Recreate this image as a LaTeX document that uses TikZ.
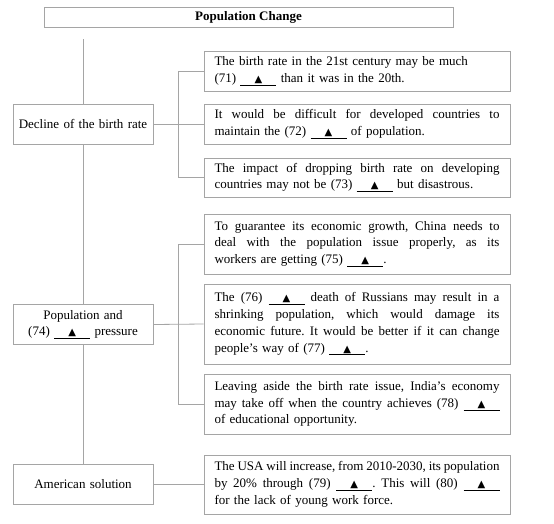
\documentclass[tikz,border=0pt]{standalone}
\usepackage{fontspec}
\setmainfont{Liberation Serif}
\newfontfamily\dejavu{DejaVu Sans}
\newcommand{\ws}{\spaceskip=.3333em plus .3em minus .13em\relax\xspaceskip=\spaceskip}
\newcommand{\tri}{{\dejavu\fontsize{10}{10}\selectfont ▲}}
\newcommand{\blank}{\underline{\makebox[36pt]{\tri}}}
\newcommand{\jl}[1]{\hbox to 285pt{\ws #1}}
\definecolor{linegray}{RGB}{165,165,165}
\frenchspacing
\begin{document}
\begin{tikzpicture}[x=1pt,y=-1pt,
  every node/.style={font=\fontsize{13}{16.7}\selectfont\frenchspacing\ws, text=black},
  rbox/.style={draw=linegray, line width=0.8pt, text width=285pt, inner xsep=10.5pt, inner ysep=0pt, align=justify, minimum width=306pt, anchor=center},
  lbox/.style={draw=linegray, line width=0.8pt, text width=130pt, inner xsep=5pt, inner ysep=0pt, align=center, minimum width=140pt, minimum height=40pt, anchor=center},
  titlebox/.style={draw=linegray, line width=0.8pt, minimum width=409pt, minimum height=20pt, inner sep=0pt, font=\fontsize{13}{15}\selectfont\bfseries},
  conn/.style={draw=linegray, line width=0.8pt}]
\useasboundingbox (0,0) rectangle (554,523);
\fill[white] (0,0) rectangle (554,523);

\node[titlebox] (title) at (248.5,17) {Population Change};

\node[lbox] (l1) at (83,124) {Decline of the birth rate};
\node[lbox] (l2) at (83,324.5) {Population and\\(74) \blank\ pressure};
\node[lbox] (l3) at (83,484.5) {American solution};

\node[rbox, minimum height=40pt] (r1) at (357,71) {The birth rate in the 21st century may be much\\(71) \blank\ than it was in the 20th.};
\node[rbox, minimum height=40pt] (r2) at (357,124) {\jl{It would be difficult for developed countries to}\\maintain the (72) \blank\ of population.};
\node[rbox, minimum height=39pt] (r3) at (357,177.5) {\jl{The impact of dropping birth rate on developing}\\countries may not be (73) \blank\ but disastrous.};
\node[rbox, minimum height=60pt] (r4) at (357,244) {\jl{To guarantee its economic growth, China needs to}\\\jl{deal with the population issue properly, as its}\\workers are getting (75) \blank.};
\node[rbox, minimum height=80pt] (r5) at (357,324) {\jl{The (76) \blank\ death of Russians may result in a}\\\jl{shrinking population, which would damage its}\\\jl{economic future. It would be better if it can change}\\people's way of (77) \blank.};
\node[rbox, minimum height=60pt] (r6) at (357,404) {\jl{Leaving aside the birth rate issue, India's economy}\\\jl{may take off when the country achieves (78) \blank}\\of educational opportunity.};
\node[rbox, minimum height=59pt] (r7) at (357,484.5) {\jl{The USA will increase, from 2010-2030, its population}\\\jl{by 20\% through (79) \blank. This will (80) \blank}\\for the lack of young work force.};

\coordinate (top) at (83,39);
\path[conn] (top) -- (l1.north);
\path[conn] (l1.south) -- (l2.north);
\path[conn] (l2.south) -- (l3.north);

\path[conn] (l1.east) -- (r2.west);
\path[conn] (r1.west) -- ++(-25,0) |- (r3.west);
\path[conn] (l2.east) -- (r5.west);
\path[conn] (r4.west) -- ++(-25,0) |- (r6.west);
\path[conn] (l3.east) -- (r7.west);
\end{tikzpicture}
\end{document}
